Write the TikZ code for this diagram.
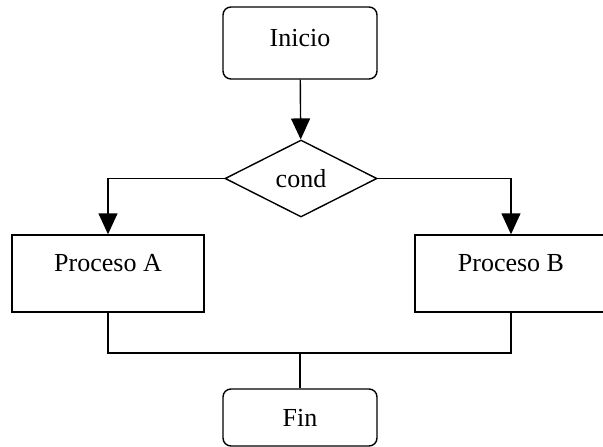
\documentclass[tikz,border=0pt]{standalone}
\usepackage{fontspec}
\setmainfont{Liberation Serif}
\usetikzlibrary{shapes.geometric,arrows.meta}
\begin{document}
\begin{tikzpicture}[x=1pt,y=-1pt,
  line width=1.4pt,
  every node/.style={font=\fontsize{26}{30}\selectfont, inner sep=0pt},
  term/.style={draw, rounded corners=8pt, minimum width=154pt, text height=17pt},
  proc/.style={draw, minimum width=192pt, minimum height=77pt, text height=17pt, text depth=21pt},
  decis/.style={draw, diamond, minimum width=152pt, minimum height=77pt},
  flow/.style={-{Triangle[length=21pt,width=19pt]}}
]
\useasboundingbox (0,0) rectangle (603,447);
\node[term, minimum height=72pt, text depth=11pt] (inicio) at (300,43) {Inicio};
\node[decis] (cond) at (301,178.5) {cond};
\node[proc] (pa) at (108,273.5) {Proceso A};
\node[proc] (pb) at (511,273.5) {Proceso B};
\node[term, minimum height=57pt, text depth=0pt] (fin) at (300,417.5) {Fin};
\coordinate (join) at (300,353);

\draw[flow] (inicio) -- (cond);
\draw[flow] (cond.west) -| (pa.north);
\draw[flow] (cond.east) -| (pb.north);
\draw (pa.south) |- (join) -| (pb.south);
\draw (join) -- (fin.north);
\end{tikzpicture}
\end{document}
